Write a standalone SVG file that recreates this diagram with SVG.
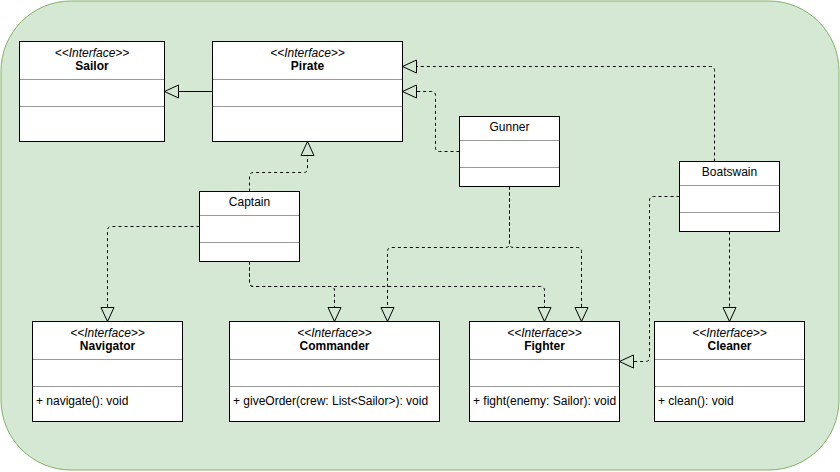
<svg xmlns="http://www.w3.org/2000/svg" width="840" height="472" viewBox="0 0 840 472">
<style>
.box{fill:#ffffff;stroke:#000000;stroke-width:1}
.sep{stroke:#999999;stroke-width:1;fill:none}
.st{font-family:"Liberation Sans",Arial,sans-serif;font-size:12px;font-style:italic;fill:#000;text-anchor:middle}
.nm{font-family:"Liberation Sans",Arial,sans-serif;font-size:12px;font-weight:bold;fill:#000;text-anchor:middle}
.cn{font-family:"Liberation Sans",Arial,sans-serif;font-size:12px;fill:#000;text-anchor:middle}
.mt{font-family:"Liberation Sans",Arial,sans-serif;font-size:12px;fill:#000}
.edge{fill:none;stroke:#000;stroke-width:1}
.dash{stroke-dasharray:3 3}
</style>
<defs>
<marker id="tri" markerUnits="userSpaceOnUse" markerWidth="16" markerHeight="16" viewBox="-1 -1 16 15" refX="0" refY="6.5" orient="auto" overflow="visible">
<path d="M0,0 L14,6.5 L0,13 Z" fill="none" stroke="#000" stroke-width="1"/>
</marker>
</defs>
<rect id="background" x="1" y="1" width="838" height="469" rx="70" ry="70" fill="#d5e8d4" stroke="#82b366" stroke-width="1"/>

<g id="connectors">
<path class="edge" d="M212.5,91.5 H178.5" marker-end="url(#tri)"/>
<path class="edge dash" d="M249.5,191.5 V176.5 Q249.5,172.5 253.5,172.5 H303.5 Q307.5,172.5 307.5,168.5 V155.5" marker-end="url(#tri)"/>
<path class="edge dash" d="M199.5,226.5 H111.5 Q107.5,226.5 107.5,230.5 V307.5" marker-end="url(#tri)"/>
<path class="edge dash" d="M249.5,261.5 V282.5 Q249.5,286.5 253.5,286.5 H330.5 Q334.5,286.5 334.5,290.5 V307.5" marker-end="url(#tri)"/>
<path class="edge dash" d="M249.5,261.5 V282.5 Q249.5,286.5 253.5,286.5 H540.5 Q544.5,286.5 544.5,290.5 V307.5" marker-end="url(#tri)"/>
<path class="edge dash" d="M509.5,186.5 V243.5 Q509.5,247.5 505.5,247.5 H391.5 Q387.5,247.5 387.5,251.5 V307.5" marker-end="url(#tri)"/>
<path class="edge dash" d="M509.5,186.5 V243.5 Q509.5,247.5 513.5,247.5 H577.5 Q581.5,247.5 581.5,251.5 V307.5" marker-end="url(#tri)"/>
<path class="edge dash" d="M459.5,151.5 H439.5 Q435.5,151.5 435.5,147.5 V95.5 Q435.5,91.5 431.5,91.5 H416.5" marker-end="url(#tri)"/>
<path class="edge dash" d="M714.5,161.5 V70.5 Q714.5,66.5 710.5,66.5 H416.5" marker-end="url(#tri)"/>
<path class="edge dash" d="M679.5,196.5 H653.5 Q649.5,196.5 649.5,200.5 V357.5 Q649.5,361.5 645.5,361.5 H633.5" marker-end="url(#tri)"/>
<path class="edge dash" d="M729.5,231.5 V307.5" marker-end="url(#tri)"/>
</g>

<g id="sailor">
<rect class="box" x="19.5" y="41.5" width="145" height="100"/>
<line class="sep" x1="20" y1="79.5" x2="164" y2="79.5"/>
<line class="sep" x1="20" y1="106.5" x2="164" y2="106.5"/>
<text class="st" x="92" y="56.5">&lt;&lt;Interface&gt;&gt;</text>
<text class="nm" x="92" y="70">Sailor</text>
</g>

<g id="pirate">
<rect class="box" x="212.5" y="41.5" width="190" height="100"/>
<line class="sep" x1="213" y1="79.5" x2="402" y2="79.5"/>
<line class="sep" x1="213" y1="106.5" x2="402" y2="106.5"/>
<text class="st" x="307.5" y="56.5">&lt;&lt;Interface&gt;&gt;</text>
<text class="nm" x="307.5" y="70">Pirate</text>
</g>

<g id="gunner">
<rect class="box" x="459.5" y="116.5" width="100" height="70"/>
<line class="sep" x1="460" y1="140.5" x2="559" y2="140.5"/>
<line class="sep" x1="460" y1="167.5" x2="559" y2="167.5"/>
<text class="cn" x="509.5" y="131">Gunner</text>
</g>

<g id="boatswain">
<rect class="box" x="679.5" y="161.5" width="100" height="70"/>
<line class="sep" x1="680" y1="185.5" x2="779" y2="185.5"/>
<line class="sep" x1="680" y1="212.5" x2="779" y2="212.5"/>
<text class="cn" x="729.5" y="176">Boatswain</text>
</g>

<g id="captain">
<rect class="box" x="199.5" y="191.5" width="100" height="70"/>
<line class="sep" x1="200" y1="215.5" x2="299" y2="215.5"/>
<line class="sep" x1="200" y1="242.5" x2="299" y2="242.5"/>
<text class="cn" x="249.5" y="206">Captain</text>
</g>

<g id="navigator">
<rect class="box" x="32.5" y="321.5" width="150" height="100"/>
<line class="sep" x1="33" y1="359.5" x2="182" y2="359.5"/>
<line class="sep" x1="33" y1="386.5" x2="182" y2="386.5"/>
<text class="st" x="107.5" y="336.5">&lt;&lt;Interface&gt;&gt;</text>
<text class="nm" x="107.5" y="350">Navigator</text>
<text class="mt" x="36" y="404.5">+ navigate(): void</text>
</g>

<g id="commander">
<rect class="box" x="229.5" y="321.5" width="210" height="100"/>
<line class="sep" x1="230" y1="359.5" x2="439" y2="359.5"/>
<line class="sep" x1="230" y1="386.5" x2="439" y2="386.5"/>
<text class="st" x="334.5" y="336.5">&lt;&lt;Interface&gt;&gt;</text>
<text class="nm" x="334.5" y="350">Commander</text>
<text class="mt" x="233" y="404.5">+ giveOrder(crew: List&lt;Sailor&gt;): void</text>
</g>

<g id="fighter">
<rect class="box" x="469.5" y="321.5" width="150" height="100"/>
<line class="sep" x1="470" y1="359.5" x2="619" y2="359.5"/>
<line class="sep" x1="470" y1="386.5" x2="619" y2="386.5"/>
<text class="st" x="544.5" y="336.5">&lt;&lt;Interface&gt;&gt;</text>
<text class="nm" x="544.5" y="350">Fighter</text>
<text class="mt" x="473" y="404.5">+ fight(enemy: Sailor): void</text>
</g>

<g id="cleaner">
<rect class="box" x="654.5" y="321.5" width="150" height="100"/>
<line class="sep" x1="655" y1="359.5" x2="804" y2="359.5"/>
<line class="sep" x1="655" y1="386.5" x2="804" y2="386.5"/>
<text class="st" x="729.5" y="336.5">&lt;&lt;Interface&gt;&gt;</text>
<text class="nm" x="729.5" y="350">Cleaner</text>
<text class="mt" x="658" y="404.5">+ clean(): void</text>
</g>
</svg>
